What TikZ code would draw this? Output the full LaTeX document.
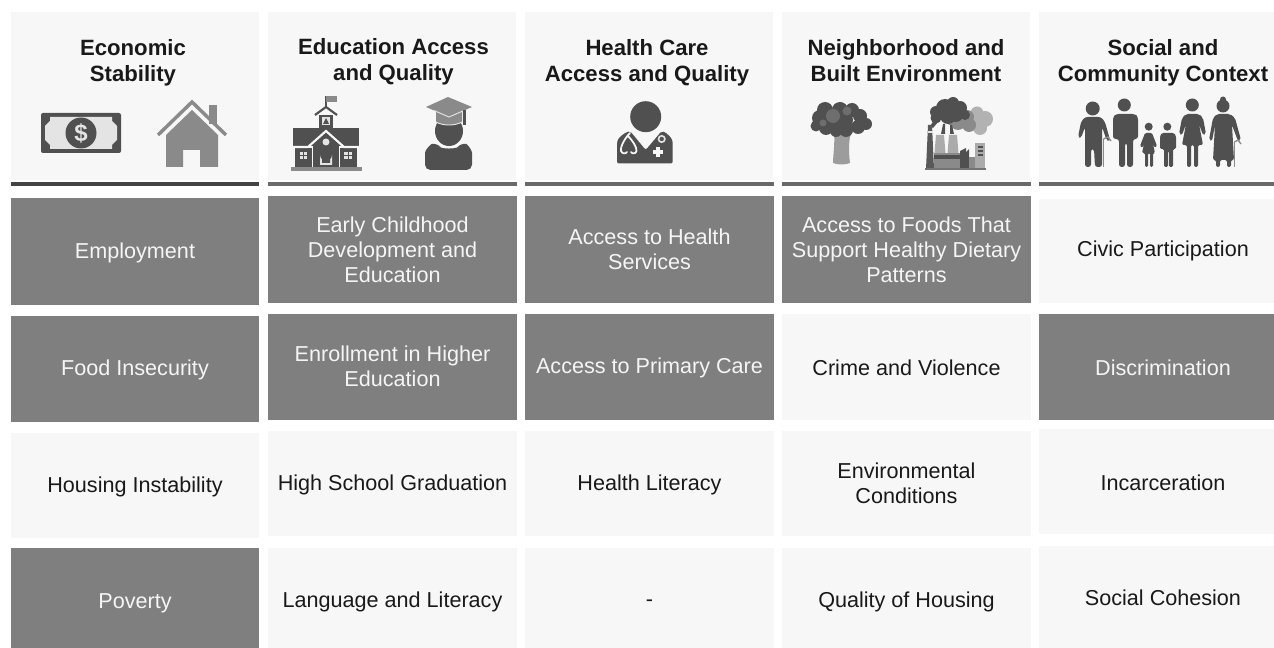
\documentclass[tikz,border=0pt]{standalone}
\usepackage{fontspec}
\setmainfont{Liberation Sans}
\definecolor{hdr}{HTML}{F7F7F7}
\definecolor{dark}{HTML}{7F7F7F}
\definecolor{ink}{HTML}{505050}
\definecolor{mid}{HTML}{8A8A8A}
\definecolor{soft}{HTML}{ABABAB}
\definecolor{rulec}{HTML}{444444}
\definecolor{rulem}{HTML}{6A6A6A}
\definecolor{lite}{HTML}{E4E4E4}
\tikzset{
  cellbase/.style={minimum height=0pt,inner sep=0pt,align=center,font=\fontsize{16.2pt}{18.8pt}\selectfont},
  hilite/.style={fill=dark,text=white!96!black},
  plain/.style={fill=hdr,text=black!90},
  headtext/.style={inner sep=0pt,align=center,font=\fontsize{16.6pt}{19.6pt}\selectfont\bfseries,text=black!90},
  headbox/.style={fill=hdr},
  fam/.style={fill=ink,draw=none},
}
\newcommand{\cellbox}[8]{%
  \fill[#2] (#3,#4) rectangle (#5,#6);
  \node[cellbase,#2,fill=none] (#1) at ({(#3+#5)/2},#8) {#7};
}
\newcommand{\cellat}[9]{%
  \fill[#2] (#3,#4) rectangle (#5,#6);
  \node[cellbase,#2,fill=none] (#1) at (#9,#8) {#7};
}
\begin{document}
\begin{tikzpicture}[x=0.75pt,y=-0.75pt]
\useasboundingbox (0,0) rectangle (1274,648);
\fill[white] (0,0) rectangle (1274,648);
% header boxes
\fill[headbox] (11,12) rectangle (259,180);
\fill[headbox] (268,12) rectangle (516,180);
\fill[headbox] (525,12) rectangle (773,180);
\fill[headbox] (782,12) rectangle (1030,180);
\fill[headbox] (1039,12) rectangle (1274,180);
\fill[rulec] (11,182.5) rectangle (259,186);
\fill[rulem] (268,182.5) rectangle (517,186);
\fill[rulem] (525,182.5) rectangle (774,186);
\fill[rulem] (782,182.5) rectangle (1031,186);
\fill[rulem] (1039,182.5) rectangle (1274,186);
\node[headtext] (h1) at (133,62.5) {Economic\\Stability};
\node[headtext] (h2) at (393.5,62) {Education Access\\and Quality};
\node[headtext] (h3) at (647,62.5) {Health Care\\Access and Quality};
\node[headtext] (h4) at (906,61) {Neighborhood and\\Built Environment};
\node[headtext] (h5) at (1163,62.5) {Social and\\Community Context};
% cells
\cellbox{a1}{hilite}{11}{198}{259}{305}{Employment}{253}
\cellbox{a2}{hilite}{11}{316}{259}{422}{Food Insecurity}{369.5}
\cellbox{a3}{plain}{11}{433}{259}{538}{Housing Instability}{486.5}
\cellbox{a4}{hilite}{11}{548}{259}{648}{Poverty}{603}
\cellbox{b1}{hilite}{268}{196}{517}{303}{Early Childhood\\Development and\\Education}{249.5}
\cellbox{b2}{hilite}{268}{314}{517}{420}{Enrollment in Higher\\Education}{366}
\cellbox{b3}{plain}{268}{431}{517}{536}{High School Graduation}{485}
\cellbox{b4}{plain}{268}{548}{517}{648}{Language and Literacy}{601.5}
\cellbox{c1}{hilite}{525}{196}{774}{303}{Access to Health\\Services}{249.5}
\cellbox{c2}{hilite}{525}{314}{774}{420}{Access to Primary Care}{368}
\cellbox{c3}{plain}{525}{431}{774}{536}{Health Literacy}{485}
\cellbox{c4}{plain}{525}{548}{774}{648}{-}{603.5}
\cellbox{d1}{hilite}{782}{196}{1031}{303}{Access to Foods That\\Support Healthy Dietary\\Patterns}{249.5}
\cellbox{d2}{plain}{782}{314}{1031}{420}{Crime and Violence}{368}
\cellbox{d3}{plain}{782}{431}{1031}{536}{Environmental\\Conditions}{483}
\cellbox{d4}{plain}{782}{548}{1031}{648}{Quality of Housing}{601.5}
\cellat{e1}{plain}{1039}{199}{1274}{303}{Civic Participation}{251}{1163}
\cellat{e2}{hilite}{1039}{314}{1274}{420}{Discrimination}{368}{1163}
\cellat{e3}{plain}{1039}{429}{1274}{534}{Incarceration}{483}{1163}
\cellat{e4}{plain}{1039}{546}{1274}{648}{Social Cohesion}{598}{1163}
% money
\fill[ink,rounded corners=1.5] (41,113) rectangle (121,153);
\fill[lite] (50,117) -- (112,117) -- (112,121) -- (117,126) -- (117,140) -- (112,145) -- (112,149) -- (50,149) -- (50,145) -- (45,140) -- (45,126) -- (50,121) -- cycle;
\fill[ink] (81,133) circle (15.5);
\node[inner sep=0pt,text=lite,font=\fontsize{18pt}{18pt}\selectfont\bfseries] (dollar) at (81,133) {\$};
% house
\fill[mid] (166,135) -- (192,110) -- (218,135) -- (218,167) -- (200,167) -- (200,150) -- (183,150) -- (183,167) -- (166,167) -- cycle;
\fill[mid] (209,105) rectangle (217,124);
\draw[hdr,line width=1.5pt] (192,106) -- (205,118.5);
\draw[mid,line width=2.6pt] (158,135) -- (192,102) -- (226,135);
% school
\fill[ink] (293,128) rectangle (359,146);
\fill[ink] (295,148) rectangle (312,167);
\fill[ink] (340,148) rectangle (357,167);
\fill[ink] (313,146) rectangle (339,167);
\fill[mid] (291,167) rectangle (362,171);
\fill[ink] (319,115) rectangle (333,128);
\fill[lite] (322,117) rectangle (330,125);
\fill[ink] (326,118) -- (329,124) -- (323,124) -- cycle;
\draw[ink,line width=1.6pt] (315,115) -- (326,107) -- (337,115);
\draw[ink,line width=1pt] (326,107) -- (326,96);
\fill[mid] (326,96) rectangle (337,102);
\draw[hdr,line width=1.6pt] (292,147) -- (308,147) -- (326,131) -- (344,147) -- (360,147);
\fill[ink] (326,134.5) -- (312,146) -- (340,146) -- cycle;
\draw[hdr,line width=1.2pt] (312.5,147) -- (312.5,167) (339.5,147) -- (339.5,167);
\fill[lite] (320,165) -- (320,155) arc (180:0:6) -- (332,165) -- cycle;
\fill[ink] (322,163) -- (322,155.5) arc (180:0:4) -- (330,163) -- cycle;
\fill[lite] (326,142) circle (3.5);
\fill[lite] (300,152) rectangle (307,159);
\fill[lite] (344,152) rectangle (352,159);
\draw[ink,line width=0.6pt] (303.5,152) -- (303.5,159) (300,155.5) -- (307,155.5) (348,152) -- (348,159) (344,155.5) -- (352,155.5);
% graduate
\fill[ink] (449,131) ellipse (14 and 15);
\fill[ink,rounded corners=4] (425,170) -- (425,158) .. controls (425,150) and (431,144) .. (437,143) .. controls (442,149) and (456,149) .. (461,143) .. controls (467,144) and (472,150) .. (472,158) -- (472,170) -- cycle;
\fill[hdr] (432,108) rectangle (466,122);
\fill[mid] (436,112) -- (462,112) -- (462,122) .. controls (455,126) and (443,126) .. (436,122) -- cycle;
\draw[lite,line width=0.7pt] (436,122) .. controls (443,126) and (455,126) .. (462,122);
\fill[mid] (426,107) -- (448,97) -- (472,107) -- (449,117) -- cycle;
\draw[lite,line width=0.7pt] (434,110.5) -- (449,117) -- (464,110.5);
\fill[ink] (463,110) rectangle (466,125);
% doctor
\fill[ink] (645.7,116.7) circle (15.5);
\fill[ink,rounded corners=1.5] (617,163.5) -- (617,143) .. controls (618,138) and (624,133) .. (630,131) -- (645.7,150) -- (661.7,131) .. controls (667,133) and (672,138) .. (672.7,143) -- (672.7,163.5) -- cycle;
\draw[hdr,line width=1.3pt,line cap=round,line join=round] (630,133) .. controls (626,137) and (620,146) .. (621,151) .. controls (622,154) and (626,154) .. (627,152) (628,136) .. controls (632,140) and (637,147) .. (636.5,151) .. controls (636,154) and (632,154) .. (631,152);
\draw[lite,line width=1.2pt] (661.7,139) circle (3.2);
\fill[hdr] (656,147.5) rectangle (659.5,157);
\fill[hdr] (653,150.5) rectangle (662.5,154);
% broccoli
\fill[mid!85!white] (834,133) .. controls (835,145) and (833,155) .. (833,163) .. controls (838,165) and (845,165) .. (850,163) .. controls (849,155) and (848,143) .. (851,133) -- cycle;
\fill[ink] (825,110) circle (8);
\fill[ink] (820,118) circle (8);
\fill[ink] (816,126) circle (5.5);
\fill[ink] (826,128) circle (7);
\fill[ink] (840,110) circle (8);
\fill[ink] (852,110) circle (7);
\fill[ink] (860,116) circle (7);
\fill[ink] (866,124) circle (6);
\fill[ink] (858,127) circle (7);
\fill[ink] (846,130) circle (7);
\fill[ink] (836,131) circle (6);
\fill[ink] (840,120) circle (13);
\fill[mid!80!black] (833,116) circle (7);
\fill[mid!80!black] (847,111) circle (4.5);
\fill[mid!80!black] (823,123) circle (3.5);
\fill[ink] (843,124) circle (6);
% factory
\fill[black!30] (977,113) circle (6.5);
\fill[black!30] (985,119) circle (8);
\fill[black!30] (980,128) circle (7);
\fill[black!30] (972,122) circle (8);
\fill[mid] (967,117) circle (7);
\fill[mid] (969,125) circle (7);
\fill[mid] (958,122) circle (8);
\fill[mid] (951,121) circle (4.5);
\fill[ink] (953,103) circle (6);
\fill[ink] (960,108) circle (7);
\fill[ink] (965,115) circle (5);
\fill[ink] (945,108) circle (9);
\fill[ink] (936,112) circle (6);
\fill[ink] (936,118) circle (5.5);
\fill[ink] (948,116) circle (8);
\fill[ink] (956,115) circle (7);
\fill[ink] (930,126) -- (935,119) -- (938,122) -- (933,128) -- cycle;
\fill[ink] (941,134) -- (943,124) -- (945,124) -- (945,134) -- cycle;
\fill[ink] (950,134) -- (950,125) -- (952,125) -- (954,134) -- cycle;
\fill[black!65] (928,125) -- (932,125) -- (934,169) -- (926,169) -- cycle;
\fill[lite] (927.5,131) rectangle (932.5,133.5);
\fill[soft] (936,135) -- (944,135) -- (945.5,153) -- (934.5,153) -- cycle;
\fill[soft] (949,135) -- (957,135) -- (958.5,153) -- (947.5,153) -- cycle;
\fill[mid] (934,153) rectangle (960,169);
\fill[ink] (934,155) rectangle (960,159);
\fill[ink] (960,169) -- (960,151) -- (966,148) -- (966,169) -- cycle;
\fill[ink] (966,169) -- (966,152) -- (969,149) -- (969,169) -- cycle;
\fill[mid] (969,157) rectangle (975,169);
\fill[soft] (975,143) rectangle (985,169);
\fill[ink] (978,146) rectangle (983,148);
\fill[ink] (978,150) rectangle (983,152);
\fill[ink] (978,154) rectangle (983,156);
\fill[black!55] (925,168.5) rectangle (986,170);
% family: person 1 with cane
\fill[fam] (1092.7,108.5) circle (7);
\fill[fam,rounded corners=2] (1085,117) -- (1101,117) -- (1105,122) -- (1110,140) -- (1107,141) -- (1102,127) -- (1102,167) -- (1095,167) -- (1094,149) -- (1091,149) -- (1091,167) -- (1085,167) -- (1085,127) -- (1081,138) -- (1078,137) -- (1081,122) -- cycle;
\draw[mid,line width=1pt] (1103.5,139) -- (1103.5,167);
\draw[mid,line width=1pt] (1103.5,139) -- (1108,137) -- (1111,141);
% person 2
\fill[fam] (1124.3,105) circle (6.5);
\fill[fam,rounded corners=2] (1113,139) -- (1113,117) -- (1116,114) -- (1135,114) -- (1138,117) -- (1138,139) -- (1133,139) -- (1133,167) -- (1127,167) -- (1127,143) -- (1125,143) -- (1125,167) -- (1119,167) -- (1119,139) -- cycle;
% girl
\fill[fam] (1148.7,126.7) circle (4);
\fill[fam,rounded corners=1] (1145,133) -- (1152,133) -- (1157,146) -- (1155,148) -- (1153,144) -- (1155,153) -- (1153,153) -- (1153,167) -- (1150,167) -- (1150,153) -- (1148,153) -- (1148,167) -- (1145,167) -- (1145,153) -- (1142,153) -- (1144,144) -- (1142,148) -- (1140,146) -- cycle;
% boy
\fill[fam] (1167.3,126.7) circle (4);
\fill[fam,rounded corners=1] (1160,149) -- (1160,136) -- (1162,133) -- (1174,133) -- (1176,136) -- (1176,149) -- (1173,149) -- (1173,167) -- (1169,167) -- (1169,151) -- (1168,151) -- (1168,167) -- (1164,167) -- (1164,149) -- cycle;
% woman
\fill[fam] (1192.3,105) circle (6.5);
\fill[fam,rounded corners=1.5] (1186,114) -- (1199,114) -- (1203,118) -- (1206,134) -- (1203,135) -- (1199,124) -- (1203,145) -- (1198,145) -- (1198,167) -- (1194,167) -- (1194,145) -- (1191,145) -- (1191,167) -- (1187,167) -- (1187,145) -- (1182,145) -- (1186,124) -- (1182,135) -- (1179,134) -- (1182,118) -- cycle;
% grandmother
\fill[fam] (1223,106) circle (6.5);
\fill[fam] (1223,99.5) circle (3);
\fill[fam,rounded corners=1.5] (1217,114) -- (1230,114) -- (1235,118) -- (1241,140) -- (1238,141) -- (1232,125) -- (1234,160) -- (1231,160) -- (1231,167) -- (1227,167) -- (1227,160) -- (1220,160) -- (1220,167) -- (1216,167) -- (1216,160) -- (1213,160) -- (1215,125) -- (1212,141) -- (1209,140) -- (1213,118) -- cycle;
\draw[mid,line width=1pt] (1234.5,142) -- (1234.5,167);
\draw[mid,line width=1pt] (1234.5,142) -- (1238,140) -- (1241,144);
\end{tikzpicture}
\end{document}
